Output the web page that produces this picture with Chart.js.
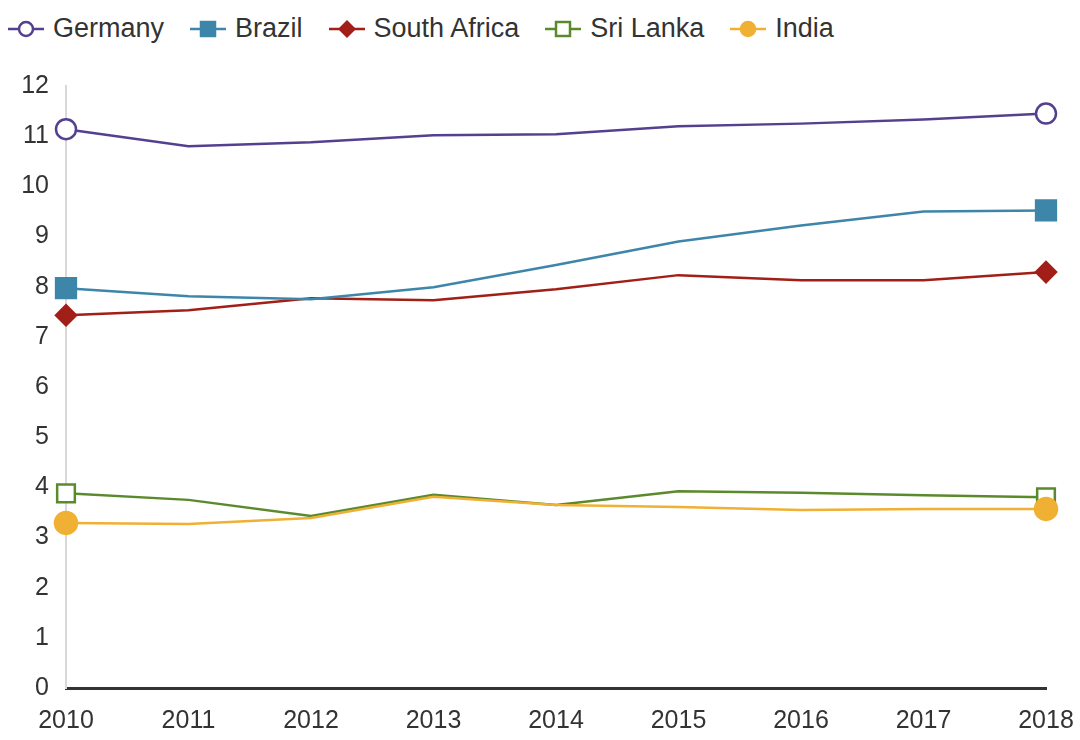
<!DOCTYPE html>
<html>
<head>
<meta charset="utf-8">
<script src="https://cdn.jsdelivr.net/npm/chart.js@4/dist/chart.umd.min.js"></script>
<style>
  body { margin: 0; background: #fff; font-family: "Liberation Sans", Arial, sans-serif; }
  #wrap { position: relative; width: 1080px; height: 740px; }
  #legend { position: absolute; left: 8px; top: 13px; display: flex; gap: 26px; font-size: 27px; color: #333; }
  .item { display: flex; align-items: center; gap: 9px; }
  canvas { position: absolute; left: 0; top: 0; }
</style>
</head>
<body>
<div id="wrap">
  <div id="legend"></div>
  <canvas id="chart" width="1080" height="740"></canvas>
</div>
<script>
const years = ['2010', '2011', '2012', '2013', '2014', '2015', '2016', '2017', '2018'];
const germany = [11.14, 10.8, 10.88, 11.02, 11.04, 11.2, 11.25, 11.33, 11.45];
const brazil = [7.97, 7.81, 7.75, 7.99, 8.43, 8.9, 9.22, 9.5, 9.52];
const southAfrica = [7.43, 7.53, 7.77, 7.73, 7.95, 8.23, 8.13, 8.13, 8.29];
const sriLanka = [3.88, 3.75, 3.43, 3.85, 3.65, 3.92, 3.89, 3.84, 3.8];
const india = [3.29, 3.27, 3.39, 3.81, 3.65, 3.61, 3.55, 3.57, 3.57];

// markers only at the two ends
function ends(r) {
    return years.map((y, i) => (i === 0 || i === years.length - 1) ? r : 0);
}

const series = [
    { label: 'Germany', data: germany, color: '#54408f', style: 'circle', r: 10, fill: '#ffffff' },
    { label: 'Brazil', data: brazil, color: '#3d86aa', style: 'rect', r: 14, fill: '#3d86aa' },
    { label: 'South Africa', data: southAfrica, color: '#a11f17', style: 'rectRot', r: 10, fill: '#a11f17' },
    { label: 'Sri Lanka', data: sriLanka, color: '#5b8a2d', style: 'rect', r: 12.5, fill: '#ffffff' },
    { label: 'India', data: india, color: '#f0b033', style: 'circle', r: 11, fill: '#f0b033', order: -1 }
];

// html legend, line with marker
const legend = document.getElementById('legend');
series.forEach(s => {
    let mark = '';
    if (s.style === 'circle') {
        mark = `<circle cx="18" cy="12" r="7" fill="${s.fill}" stroke="${s.color}" stroke-width="2.5"/>`;
    } else if (s.style === 'rect') {
        mark = `<rect x="11" y="5" width="14" height="14" fill="${s.fill}" stroke="${s.color}" stroke-width="2.5"/>`;
    } else {
        mark = `<polygon points="18,3 27,12 18,21 9,12" fill="${s.fill}"/>`;
    }
    const el = document.createElement('div');
    el.className = 'item';
    el.innerHTML = `<svg width="36" height="24"><line x1="0" y1="12" x2="36" y2="12" stroke="${s.color}" stroke-width="2.5"/>${mark}</svg><span>${s.label}</span>`;
    legend.appendChild(el);
});

const ctx = document.getElementById('chart').getContext('2d');
const chart = new Chart(ctx, {
    type: 'line',
    data: {
        labels: years,
        datasets: series.map(s => ({
            label: s.label,
            data: s.data,
            borderColor: s.color,
            borderWidth: 2.5,
            backgroundColor: s.fill,
            pointStyle: s.style,
            pointRadius: ends(s.r),
            pointHoverRadius: ends(s.r),
            pointBackgroundColor: s.fill,
            pointBorderColor: s.color,
            pointBorderWidth: 2.5,
            tension: 0,
            clip: false,
            order: s.order || 0
        }))
    },
    options: {
        responsive: false,
        animation: false,
        layout: { padding: { top: 86, right: 34, left: 0, bottom: 0 } },
        plugins: {
            legend: { display: false },
            tooltip: { enabled: false }
        },
        scales: {
            x: {
                grid: { display: false, drawTicks: false },
                border: { display: true, color: '#333333', width: 3 },
                ticks: {
                    color: '#333',
                    padding: 18,
                    maxRotation: 0,
                    font: { family: '"Liberation Sans", Arial, sans-serif', size: 25 }
                },
                afterFit: function(scale) {
                    scale.height = 52;
                    scale.paddingLeft = 0;
                    scale.paddingRight = 0;
                }
            },
            y: {
                min: 0,
                max: 12,
                grid: { display: false, drawTicks: false },
                border: { display: true, color: '#d9d9d9', width: 2 },
                ticks: {
                    stepSize: 1,
                    color: '#333',
                    padding: 17,
                    font: { family: '"Liberation Sans", Arial, sans-serif', size: 25 }
                },
                afterFit: function(scale) { scale.width = 66; }
            }
        }
    }
});
</script>
</body>
</html>
